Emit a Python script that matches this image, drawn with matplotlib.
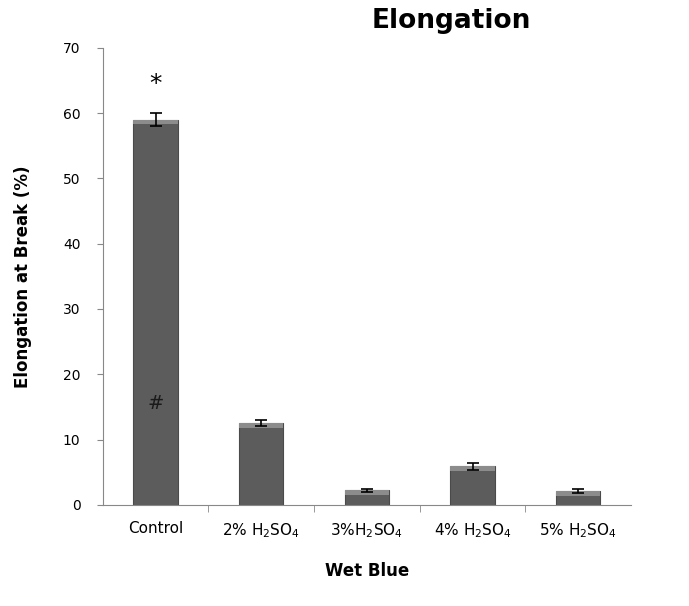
import matplotlib

matplotlib.use("Agg")
import matplotlib.pyplot as plt
import numpy as np

categories = ["Control", "2% H$_2$SO$_4$", "3%H$_2$SO$_4$", "4% H$_2$SO$_4$", "5% H$_2$SO$_4$"]
elongation = [59.0, 12.5, 2.2, 5.9, 2.1]
errors = [1.0, 0.5, 0.2, 0.5, 0.3]

fig = plt.figure(figsize=(6.89, 6.06), dpi=100)
ax = fig.add_axes([0.149, 0.167, 0.767, 0.754])

x = np.arange(len(categories))
ax.bar(x, elongation, width=0.42, color="#5c5c5c", edgecolor="#4a4a4a", linewidth=0.8, zorder=2)
# lighter band along the top of each bar
ax.bar(x, [0.7] * len(x), bottom=[v - 0.7 for v in elongation], width=0.42,
       color="#8c8c8c", edgecolor="none", zorder=2)
ax.errorbar(x, elongation, yerr=errors, fmt="none", ecolor="black", elinewidth=1.2,
            capsize=4, capthick=1.2, zorder=3)

ax.text(x[0], 64.5, "*", ha="center", va="center", fontsize=18)
ax.text(x[0], 15.5, "#", ha="center", va="center", fontsize=14, color="#1a1a1a")

ax.set_xlim(-0.5, len(categories) - 0.5)
ax.set_ylim(0, 70)
ax.set_yticks(range(0, 71, 10))
ax.set_xticks(x)
ax.set_xticklabels(categories, fontsize=11)
ax.set_xticks(np.arange(0.5, len(categories) - 1, 1.0), minor=True)
ax.tick_params(axis="x", which="major", length=0, pad=12)
ax.tick_params(axis="x", which="minor", length=5, color="#888888")
ax.tick_params(axis="y", length=4, color="#888888", labelsize=10, pad=12)

for side in ["top", "right"]:
    ax.spines[side].set_visible(False)
for side in ["left", "bottom"]:
    ax.spines[side].set_color("#888888")

ax.set_ylabel("Elongation at Break (%)", fontsize=12, fontweight="bold", labelpad=22)
ax.set_xlabel("Wet Blue", fontsize=12, fontweight="bold", labelpad=16)
fig.text(0.655, 0.965, "Elongation", ha="center", va="center", fontsize=19, fontweight="bold")

fig.savefig("out.png", dpi=100, facecolor="white")
